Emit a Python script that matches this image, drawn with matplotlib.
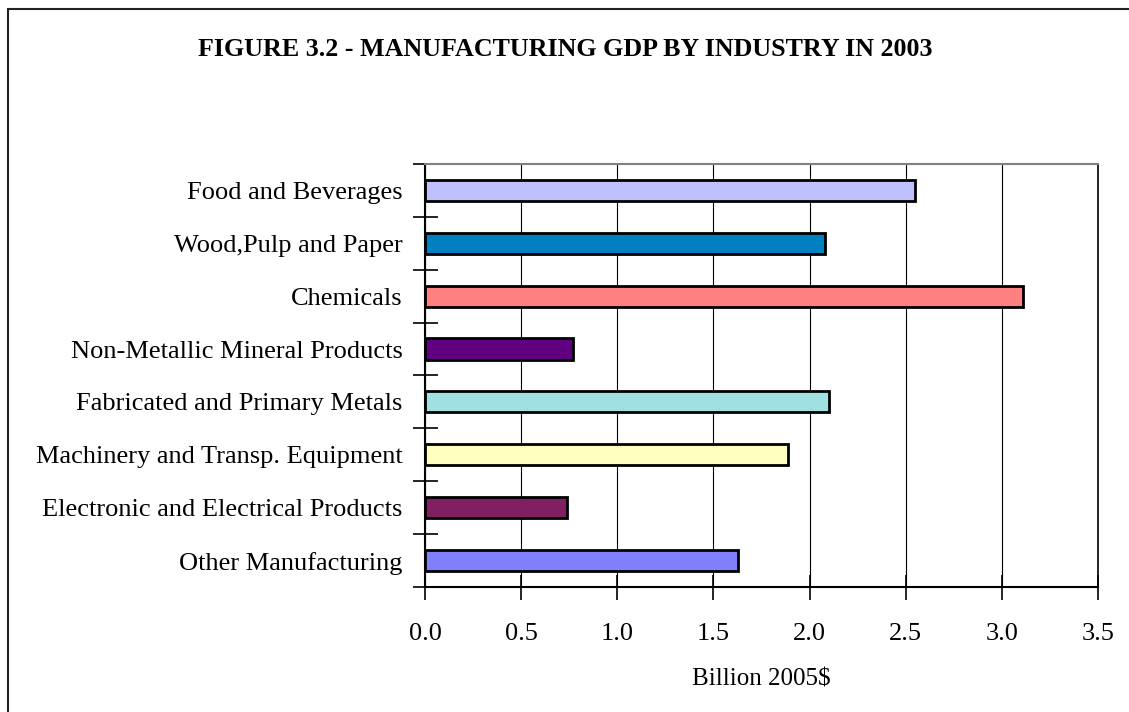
import matplotlib
matplotlib.use("Agg")
import matplotlib.pyplot as plt
import numpy as np
from matplotlib.patches import Rectangle
from matplotlib.ticker import FormatStrFormatter

# Data (billion 2005$), top to bottom as shown
industries = [
    "Food and Beverages",
    "Wood,Pulp and Paper",
    "Chemicals",
    "Non-Metallic Mineral Products",
    "Fabricated and Primary Metals",
    "Machinery and Transp. Equipment",
    "Electronic and Electrical Products",
    "Other Manufacturing",
]
gdp = [2.55, 2.08, 3.11, 0.77, 2.10, 1.89, 0.74, 1.63]
colors = ["#C0C0FF", "#0080C0", "#FF8080", "#600080",
          "#A0E0E0", "#FFFFC0", "#802060", "#8080FF"]
x_ticks = [0.0, 0.5, 1.0, 1.5, 2.0, 2.5, 3.0, 3.5]

plt.rcParams["font.family"] = ["Liberation Serif", "DejaVu Serif"]

fig = plt.figure(figsize=(11.29, 7.12), dpi=100)
ax = fig.add_axes([0.3764, 0.1756, 0.5962, 0.5941])

y = np.arange(len(industries))
ax.barh(y, gdp, height=0.4, color=colors, edgecolor="black", linewidth=2.0, zorder=3)

ax.set_xlim(0, 3.5)
ax.set_ylim(len(industries) - 0.5, -0.5)

ax.set_xticks(x_ticks)
ax.xaxis.set_major_formatter(FormatStrFormatter("%.1f"))
ax.tick_params(axis="x", direction="inout", length=18, width=1.2, pad=17, labelsize=19)
ax.grid(axis="x", color="black", linewidth=0.8, zorder=0)

ax.set_yticks(y)
ax.set_yticklabels(industries)
ax.set_yticks(np.arange(len(industries) + 1) - 0.5, minor=True)
ax.tick_params(axis="y", which="major", length=0, pad=16, labelsize=19)
ax.tick_params(axis="y", which="minor", direction="inout", length=18, width=1.2)

ax.spines["left"].set_linewidth(1.5)
ax.spines["bottom"].set_linewidth(1.5)
ax.spines["top"].set_color("#808080")
ax.spines["top"].set_linewidth(1.5)
ax.spines["right"].set_linewidth(1.2)

ax.set_xlabel("Billion 2005$", fontsize=18, labelpad=17)

fig.text(0.5004, 0.930, "FIGURE 3.2 - MANUFACTURING GDP BY INDUSTRY IN 2003",
         ha="center", va="center", fontsize=18.7, fontweight="bold")

# outer frame, cut off at the right and bottom edges like the original
fig.patches.append(Rectangle((0.0071, -0.1), 1.2, 1.0874, transform=fig.transFigure,
                             fill=False, edgecolor="#222222", linewidth=1.5))

fig.savefig("out.png", dpi=100)
